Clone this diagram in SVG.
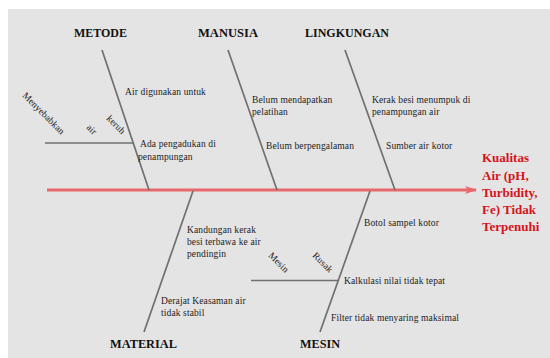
<svg xmlns="http://www.w3.org/2000/svg" width="550" height="358" viewBox="0 0 550 358">
<defs>
<style>
.bone{stroke:#707070;stroke-width:1.7;fill:none}
.spine{stroke:#e8676b;stroke-width:3;fill:none}
.hdr{font-family:"Liberation Serif",serif;font-weight:bold;font-size:13px;fill:#111}
.t{font-family:"Liberation Serif",serif;font-size:9.5px;letter-spacing:0.12px;fill:#222}
.eff{font-family:"Liberation Serif",serif;font-weight:bold;font-size:13px;fill:#d4141c}
</style>
<marker id="ah" markerWidth="12" markerHeight="10" refX="11" refY="5" orient="auto" markerUnits="userSpaceOnUse">
<path d="M0,1 L12,5 L0,9 L3,5 Z" fill="#e8676b"/>
</marker>
</defs>
<rect x="8" y="9" width="542" height="349" fill="#e4e4e4"/>
<g id="connectors">
<line class="spine" x1="47" y1="190" x2="476" y2="190" marker-end="url(#ah)"/>
<line class="bone" x1="102" y1="50" x2="149" y2="190"/>
<line class="bone" x1="228" y1="50" x2="277" y2="190"/>
<line class="bone" x1="345" y1="50" x2="395" y2="190"/>
<line class="bone" x1="193" y1="191" x2="144" y2="332"/>
<line class="bone" x1="370" y1="191" x2="320" y2="332"/>
<line class="bone" x1="45" y1="143" x2="133" y2="143"/>
<line class="bone" x1="251" y1="280.5" x2="338" y2="280.5"/>
</g>
<g id="metode">
<text class="hdr" x="74" y="37" textLength="53" lengthAdjust="spacingAndGlyphs">METODE</text>
<text class="t" x="125" y="95">Air digunakan untuk</text>
<text class="t" x="140" y="147">Ada pengadukan di</text>
<text class="t" x="138" y="160">penampungan</text>
<text class="t" transform="translate(22,96) rotate(45)">Menyebabkan</text>
<text class="t" transform="translate(86,128) rotate(45)">air</text>
<text class="t" transform="translate(106,119) rotate(45)">keruh</text>
</g>
<g id="manusia">
<text class="hdr" x="198" y="37" textLength="60" lengthAdjust="spacingAndGlyphs">MANUSIA</text>
<text class="t" x="252" y="103">Belum mendapatkan</text>
<text class="t" x="252" y="115">pelatihan</text>
<text class="t" x="266" y="149">Belum berpengalaman</text>
</g>
<g id="lingkungan">
<text class="hdr" x="305" y="37" textLength="84" lengthAdjust="spacingAndGlyphs">LINGKUNGAN</text>
<text class="t" x="372" y="103">Kerak besi menumpuk di</text>
<text class="t" x="372" y="115">penampungan air</text>
<text class="t" x="386" y="149">Sumber air kotor</text>
</g>
<g id="material">
<text class="hdr" x="110" y="348" textLength="67" lengthAdjust="spacingAndGlyphs">MATERIAL</text>
<text class="t" x="187" y="233">Kandungan kerak</text>
<text class="t" x="187" y="245">besi terbawa ke air</text>
<text class="t" x="187" y="257">pendingin</text>
<text class="t" x="161" y="304">Derajat Keasaman air</text>
<text class="t" x="161" y="316">tidak stabil</text>
</g>
<g id="mesin">
<text class="hdr" x="300" y="348" textLength="40" lengthAdjust="spacingAndGlyphs">MESIN</text>
<text class="t" x="364" y="226">Botol sampel kotor</text>
<text class="t" x="344" y="284">Kalkulasi nilai tidak tepat</text>
<text class="t" x="331" y="321">Filter tidak menyaring maksimal</text>
<text class="t" transform="translate(268,256) rotate(45)">Mesin</text>
<text class="t" transform="translate(312,256) rotate(45)">Rusak</text>
</g>
<g id="effect">
<text class="eff" x="482" y="162">Kualitas</text>
<text class="eff" x="482" y="180">Air (pH,</text>
<text class="eff" x="482" y="197">Turbidity,</text>
<text class="eff" x="482" y="214">Fe) Tidak</text>
<text class="eff" x="482" y="231">Terpenuhi</text>
</g>
</svg>
